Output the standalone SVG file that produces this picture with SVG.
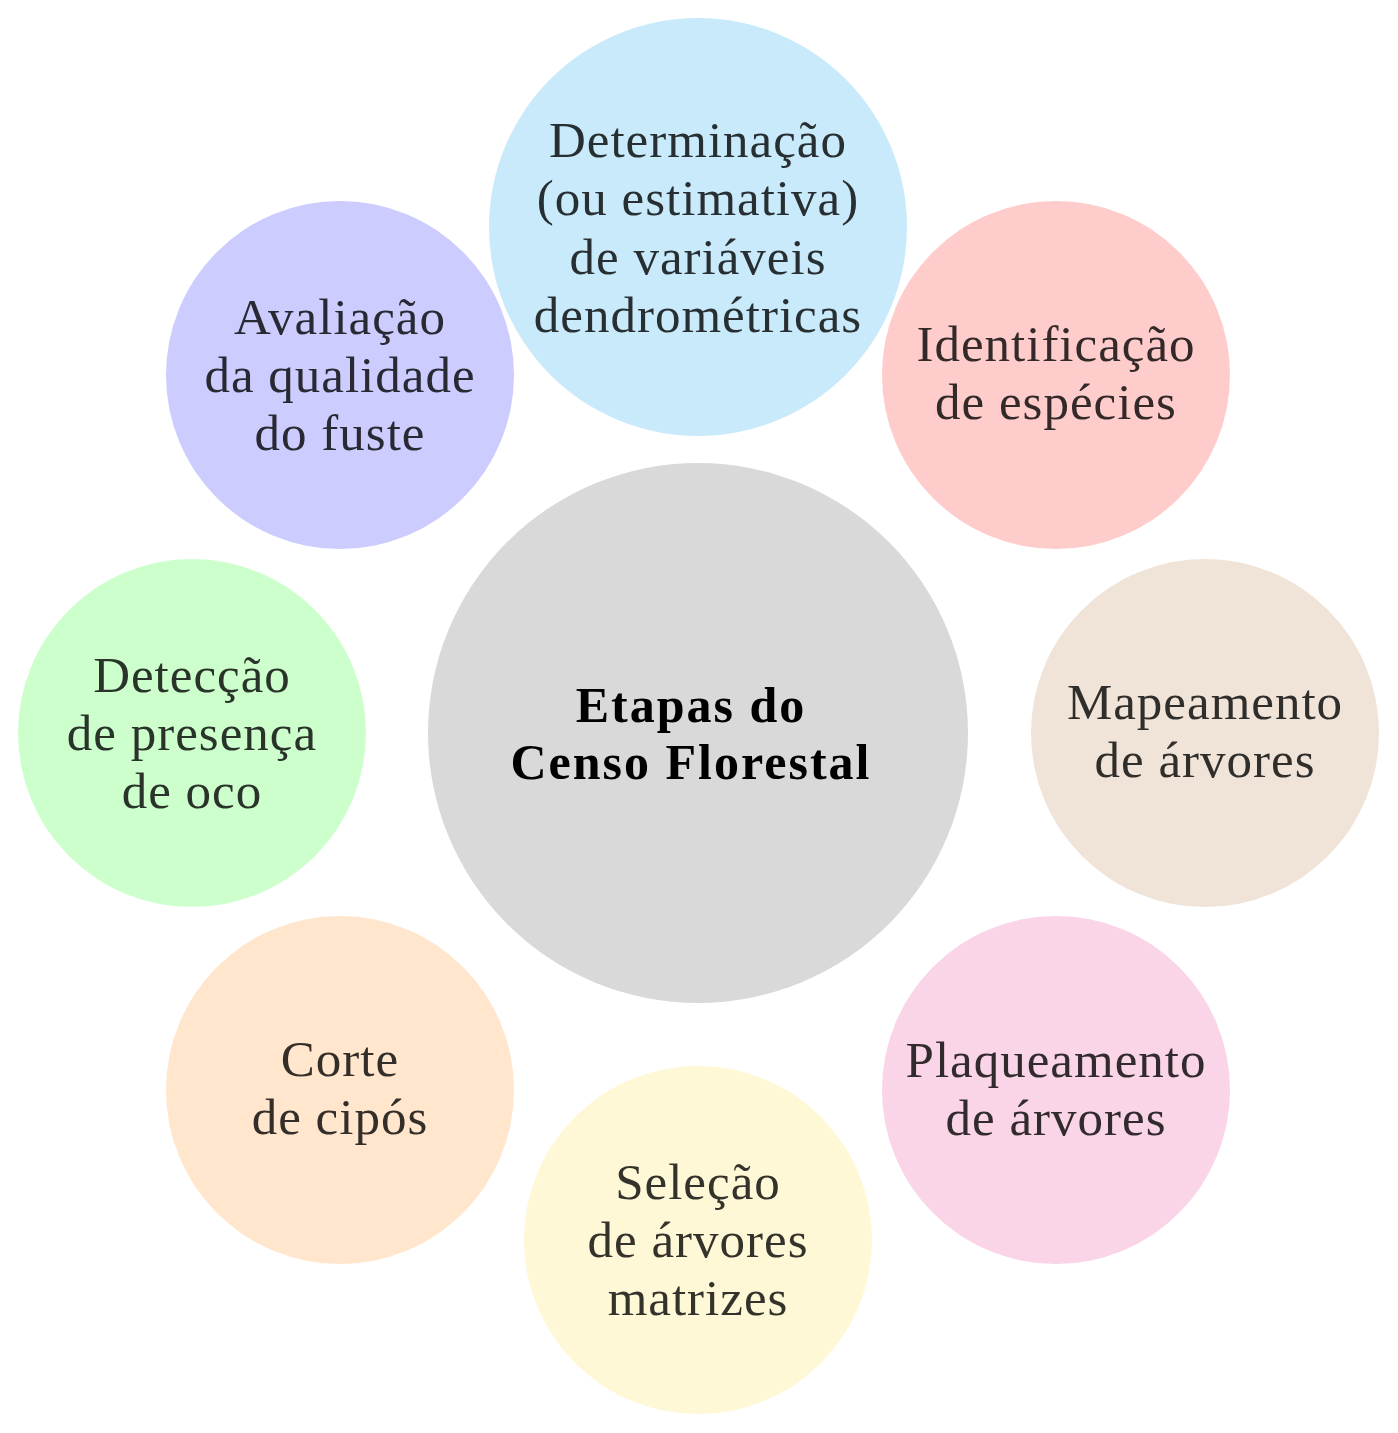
<svg xmlns="http://www.w3.org/2000/svg" width="1398" height="1433" viewBox="0 0 1398 1433">
<style>
text{font-family:"Liberation Serif","Times New Roman",serif;font-size:51px;text-anchor:middle;letter-spacing:1px}
.lbl{fill:#000;fill-opacity:0.8}
.ctr{font-weight:bold;fill:#000;font-size:50px;letter-spacing:2px}
</style>
<rect width="1398" height="1433" fill="#fff"/>
<g id="connectors"></g>
<g id="node-center">
<circle cx="698" cy="733" r="270" fill="#d9d9d9"/>
<text class="ctr" x="691" y="722">Etapas do</text>
<text class="ctr" x="691" y="779">Censo Florestal</text>
</g>
<g id="node-determinacao">
<circle cx="698" cy="227" r="209" fill="#c8eafa"/>
<text class="lbl" x="698" y="157">Determinação</text>
<text class="lbl" x="698" y="215">(ou estimativa)</text>
<text class="lbl" x="698" y="274">de variáveis</text>
<text class="lbl" x="698" y="332">dendrométricas</text>
</g>
<g id="node-identificacao">
<circle cx="1056" cy="375" r="174" fill="#ffcccc"/>
<text class="lbl" x="1056" y="361">Identificação</text>
<text class="lbl" x="1056" y="419">de espécies</text>
</g>
<g id="node-mapeamento">
<circle cx="1205" cy="733" r="174" fill="#f0e4d8"/>
<text class="lbl" x="1205" y="719">Mapeamento</text>
<text class="lbl" x="1205" y="777">de árvores</text>
</g>
<g id="node-plaqueamento">
<circle cx="1056" cy="1090" r="174" fill="#fad4e7"/>
<text class="lbl" x="1056" y="1077">Plaqueamento</text>
<text class="lbl" x="1056" y="1135">de árvores</text>
</g>
<g id="node-selecao">
<circle cx="698" cy="1240" r="174" fill="#fef8d6"/>
<text class="lbl" x="698" y="1199">Seleção</text>
<text class="lbl" x="698" y="1257">de árvores</text>
<text class="lbl" x="698" y="1315">matrizes</text>
</g>
<g id="node-corte">
<circle cx="340" cy="1090" r="174" fill="#ffe6cc"/>
<text class="lbl" x="340" y="1076">Corte</text>
<text class="lbl" x="340" y="1134">de cipós</text>
</g>
<g id="node-deteccao">
<circle cx="192" cy="733" r="174" fill="#ccffcc"/>
<text class="lbl" x="192" y="692">Detecção</text>
<text class="lbl" x="192" y="750">de presença</text>
<text class="lbl" x="192" y="808">de oco</text>
</g>
<g id="node-avaliacao">
<circle cx="340" cy="375" r="174" fill="#ccccff"/>
<text class="lbl" x="340" y="334">Avaliação</text>
<text class="lbl" x="340" y="392">da qualidade</text>
<text class="lbl" x="340" y="450">do fuste</text>
</g>
</svg>
